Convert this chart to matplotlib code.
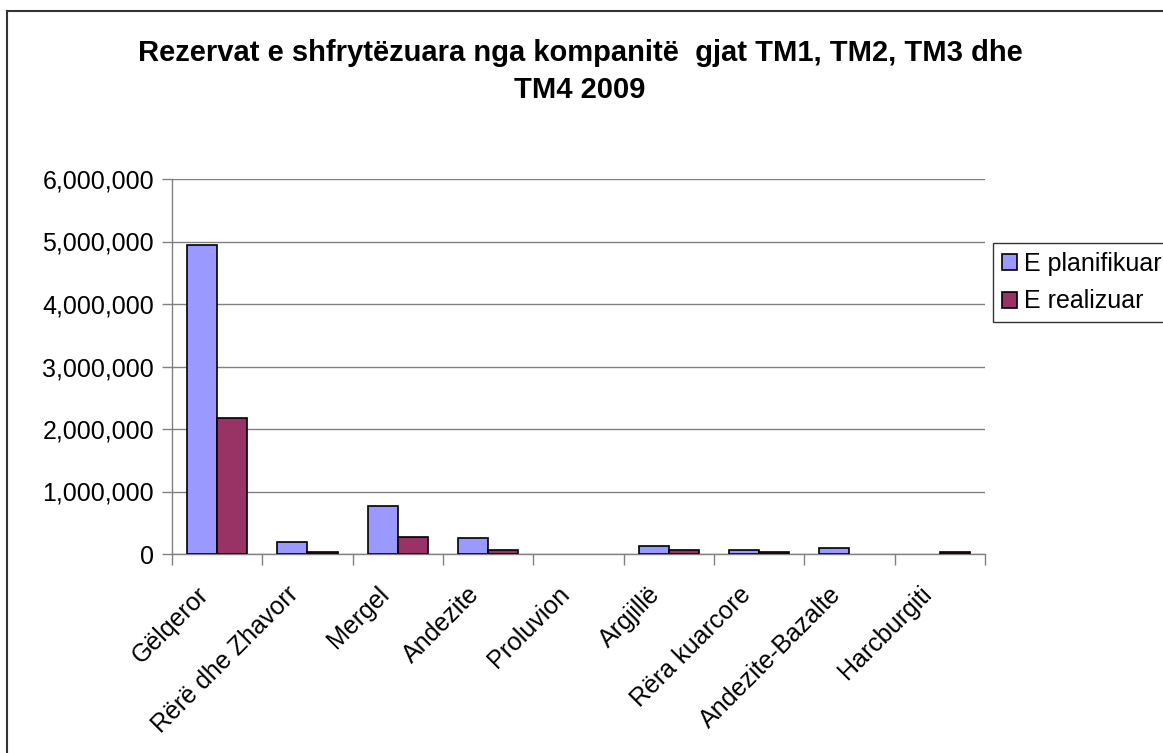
import numpy as np
import matplotlib
matplotlib.use("Agg")
import matplotlib.pyplot as plt
import matplotlib.transforms as mtransforms
from matplotlib.lines import Line2D

plt.rcParams['font.family'] = ['Liberation Sans', 'DejaVu Sans']

categories = ["Gëlqeror", "Rërë dhe Zhavorr", "Mergel", "Andezite", "Proluvion",
              "Argjillë", "Rëra kuarcore", "Andezite-Bazalte", "Harcburgiti"]
planned = [4950000, 190000, 770000, 250000, 0, 130000, 60000, 100000, 0]
realized = [2180000, 30000, 280000, 60000, 0, 60000, 30000, 0, 30000]
series_names = ["E planifikuar", "E realizuar"]
title_lines = ["Rezervat e shfrytëzuara nga kompanitë  gjat TM1, TM2, TM3 dhe", "TM4 2009"]

fig = plt.figure(figsize=(11.63, 7.53), dpi=100)
ax = fig.add_axes([172 / 1163, 1 - 554 / 753, (985 - 172) / 1163, (554 - 179) / 753])

x = np.arange(len(categories))
w = 0.335
for vals, off, col, name in [(planned, -w / 2, "#9999FF", series_names[0]),
                             (realized, w / 2, "#993366", series_names[1])]:
    bars = ax.bar(x + off, vals, w, color=col, edgecolor="black", linewidth=1.2,
                  label=name, zorder=3)
    # empty values are not drawn in the original
    for b, v in zip(bars, vals):
        if v == 0:
            b.set_visible(False)

ax.set_xlim(-0.5, len(categories) - 0.5)
ax.set_ylim(0, 6000000)
ax.set_yticks(np.arange(0, 6000001, 1000000))
ax.set_yticklabels([f"{v:,}" for v in range(0, 6000001, 1000000)], fontsize=18)
ax.yaxis.grid(True, color="#808080", linewidth=1.0, zorder=0)

ax.set_xticks(x)
ax.set_xticklabels(categories, rotation=45, ha="right", rotation_mode="anchor", fontsize=18)
ax.tick_params(axis="x", which="major", length=0, pad=18)
shift = mtransforms.ScaledTranslation(-21 / 100, -3 / 100, fig.dpi_scale_trans)
for lbl in ax.get_xticklabels():
    lbl.set_transform(lbl.get_transform() + shift)
ax.set_xticks(np.arange(-0.5, len(categories), 1), minor=True)
ax.tick_params(axis="x", which="minor", length=8, color="#808080", width=1)
ax.tick_params(axis="y", length=7, color="#808080", width=1, pad=6)

for s in ["top", "right"]:
    ax.spines[s].set_visible(False)
for s in ["left", "bottom"]:
    ax.spines[s].set_color("#808080")
    ax.spines[s].set_linewidth(1.0)

leg = ax.legend(loc="upper left", bbox_to_anchor=(993 / 1163, 1 - 243 / 753),
                bbox_transform=fig.transFigure, fontsize=18, frameon=True,
                fancybox=False, edgecolor="black", handlelength=0.6, handleheight=0.6,
                handletextpad=0.3, borderpad=0.35, labelspacing=0.55, borderaxespad=0)
leg.get_frame().set_linewidth(1.0)

fig.text(580 / 1163, 1 - 53 / 753, title_lines[0], ha="center", va="center",
         fontsize=21, fontweight="bold")
fig.text(580 / 1163, 1 - 90 / 753, title_lines[1], ha="center", va="center",
         fontsize=21, fontweight="bold")

fig.add_artist(Line2D([7 / 1163, 7 / 1163], [0, 1 - 11 / 753], transform=fig.transFigure,
                      color="#333333", linewidth=1.5))
fig.add_artist(Line2D([7 / 1163, 1], [1 - 11 / 753, 1 - 11 / 753], transform=fig.transFigure,
                      color="#333333", linewidth=1.5))

fig.savefig("out.png", dpi=100)
